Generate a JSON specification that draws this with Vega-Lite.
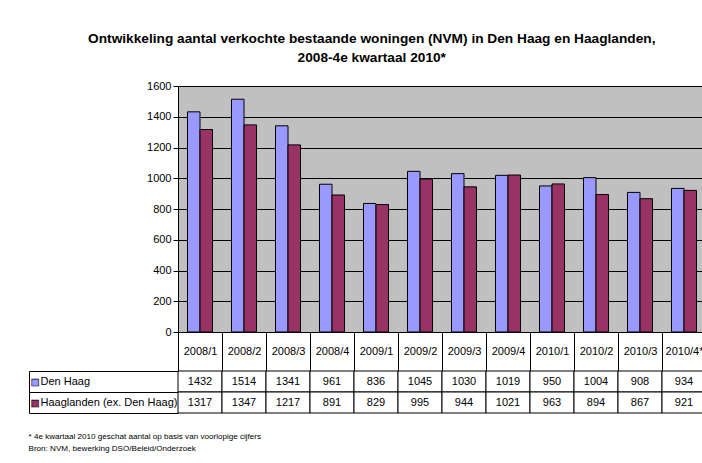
{
  "$schema": "https://vega.github.io/schema/vega-lite/v6.json",
  "padding": {"left": 28, "top": 31, "right": 0, "bottom": 0},
  "background": "white",
  "config": {
    "font": "Liberation Sans, Arial, sans-serif",
    "axis": {"labelColor": "black", "domainColor": "black", "tickColor": "black", "labelFontWeight": "normal"}
  },
  "title": {
    "text": ["Ontwikkeling aantal verkochte bestaande woningen (NVM) in Den Haag en Haaglanden,", "2008-4e kwartaal 2010*"],
    "anchor": "middle",
    "fontSize": 13.7,
    "fontWeight": "bold",
    "lineHeight": 19,
    "offset": 15,
    "dx": 4,
    "color": "black"
  },
  "datasets": {
    "d": [
      {"period": "2008/1", "series": "Den Haag", "value": 1432},
      {"period": "2008/2", "series": "Den Haag", "value": 1514},
      {"period": "2008/3", "series": "Den Haag", "value": 1341},
      {"period": "2008/4", "series": "Den Haag", "value": 961},
      {"period": "2009/1", "series": "Den Haag", "value": 836},
      {"period": "2009/2", "series": "Den Haag", "value": 1045},
      {"period": "2009/3", "series": "Den Haag", "value": 1030},
      {"period": "2009/4", "series": "Den Haag", "value": 1019},
      {"period": "2010/1", "series": "Den Haag", "value": 950},
      {"period": "2010/2", "series": "Den Haag", "value": 1004},
      {"period": "2010/3", "series": "Den Haag", "value": 908},
      {"period": "2010/4*", "series": "Den Haag", "value": 934},
      {"period": "2008/1", "series": "Haaglanden (ex. Den Haag)", "value": 1317},
      {"period": "2008/2", "series": "Haaglanden (ex. Den Haag)", "value": 1347},
      {"period": "2008/3", "series": "Haaglanden (ex. Den Haag)", "value": 1217},
      {"period": "2008/4", "series": "Haaglanden (ex. Den Haag)", "value": 891},
      {"period": "2009/1", "series": "Haaglanden (ex. Den Haag)", "value": 829},
      {"period": "2009/2", "series": "Haaglanden (ex. Den Haag)", "value": 995},
      {"period": "2009/3", "series": "Haaglanden (ex. Den Haag)", "value": 944},
      {"period": "2009/4", "series": "Haaglanden (ex. Den Haag)", "value": 1021},
      {"period": "2010/1", "series": "Haaglanden (ex. Den Haag)", "value": 963},
      {"period": "2010/2", "series": "Haaglanden (ex. Den Haag)", "value": 894},
      {"period": "2010/3", "series": "Haaglanden (ex. Den Haag)", "value": 867},
      {"period": "2010/4*", "series": "Haaglanden (ex. Den Haag)", "value": 921}
    ]
  },
  "bounds": "flush",
  "spacing": 39,
  "vconcat": [
    {
      "data": {"name": "d"},
      "width": 528,
      "height": 246,
      "view": {"fill": "#C0C0C0", "stroke": "#808080"},
      "mark": {"type": "bar", "stroke": "black", "strokeWidth": 1},
      "encoding": {
        "x": {
          "field": "period", "type": "nominal", "sort": null,
          "scale": {"paddingInner": 0, "paddingOuter": 0},
          "axis": {
            "title": null, "orient": "bottom", "tickBand": "extent", "tickSize": 39,
            "labelAngle": 0, "labelPadding": -19.5, "labelBaseline": "middle",
            "labelFontSize": 11, "grid": false, "labelOverlap": false
          }
        },
        "xOffset": {
          "field": "series", "type": "nominal", "sort": ["Den Haag", "Haaglanden (ex. Den Haag)"],
          "scale": {"paddingInner": 0, "paddingOuter": 0.76}
        },
        "y": {
          "field": "value", "type": "quantitative",
          "scale": {"domain": [0, 1600], "nice": false},
          "axis": {
            "title": null, "values": [0, 200, 400, 600, 800, 1000, 1200, 1400, 1600], "format": "d",
            "tickSize": 5, "labelPadding": 2, "labelFontSize": 11,
            "grid": true, "gridColor": "black", "gridOpacity": 1, "gridWidth": 1
          }
        },
        "color": {
          "field": "series", "type": "nominal",
          "scale": {"domain": ["Den Haag", "Haaglanden (ex. Den Haag)"], "range": ["#9999FF", "#993366"]},
          "legend": null
        }
      }
    },
    {
      "data": {"name": "d"},
      "width": 528,
      "height": 42,
      "view": {"stroke": null},
      "title": {
        "text": ["* 4e kwartaal 2010 geschat aantal op basis van voorlopige cijfers", "\u00a0Bron: NVM, bewerking DSO/Beleid/Onderzoek"],
        "orient": "bottom", "anchor": "start", "fontSize": 8.1, "fontWeight": "normal",
        "lineHeight": 12, "offset": 19, "color": "black"
      },
      "layer": [
        {
          "mark": {"type": "rect", "fill": "white", "stroke": "black", "strokeWidth": 1},
          "encoding": {
            "x": {"field": "period", "type": "nominal", "sort": null, "scale": {"paddingInner": 0, "paddingOuter": 0}, "axis": null},
            "y": {
              "field": "series", "type": "nominal", "sort": ["Den Haag", "Haaglanden (ex. Den Haag)"],
              "scale": {"paddingInner": 0, "paddingOuter": 0},
              "axis": {
                "title": null, "orient": "left", "offset": 149, "tickBand": "extent", "tickSize": -149,
                "labelAlign": "left", "labelPadding": 138, "labelBaseline": "middle", "labelFontSize": 11
              }
            }
          }
        },
        {
          "mark": {"type": "text", "fontSize": 11, "color": "black"},
          "encoding": {
            "x": {"field": "period", "type": "nominal", "sort": null},
            "y": {"field": "series", "type": "nominal", "sort": ["Den Haag", "Haaglanden (ex. Den Haag)"]},
            "text": {"field": "value", "type": "quantitative"}
          }
        },
        {
          "transform": [{"filter": "datum.period === '2008/1'"}],
          "mark": {"type": "text", "text": "■", "font": "DejaVu Sans", "fontSize": 9, "dx": -165, "stroke": "black", "strokeWidth": 0.6},
          "encoding": {
            "x": {"field": "period", "type": "nominal", "sort": null},
            "y": {"field": "series", "type": "nominal", "sort": ["Den Haag", "Haaglanden (ex. Den Haag)"]},
            "color": {
              "field": "series", "type": "nominal",
              "scale": {"domain": ["Den Haag", "Haaglanden (ex. Den Haag)"], "range": ["#9999FF", "#993366"]},
              "legend": null
            }
          }
        }
      ]
    }
  ]
}
